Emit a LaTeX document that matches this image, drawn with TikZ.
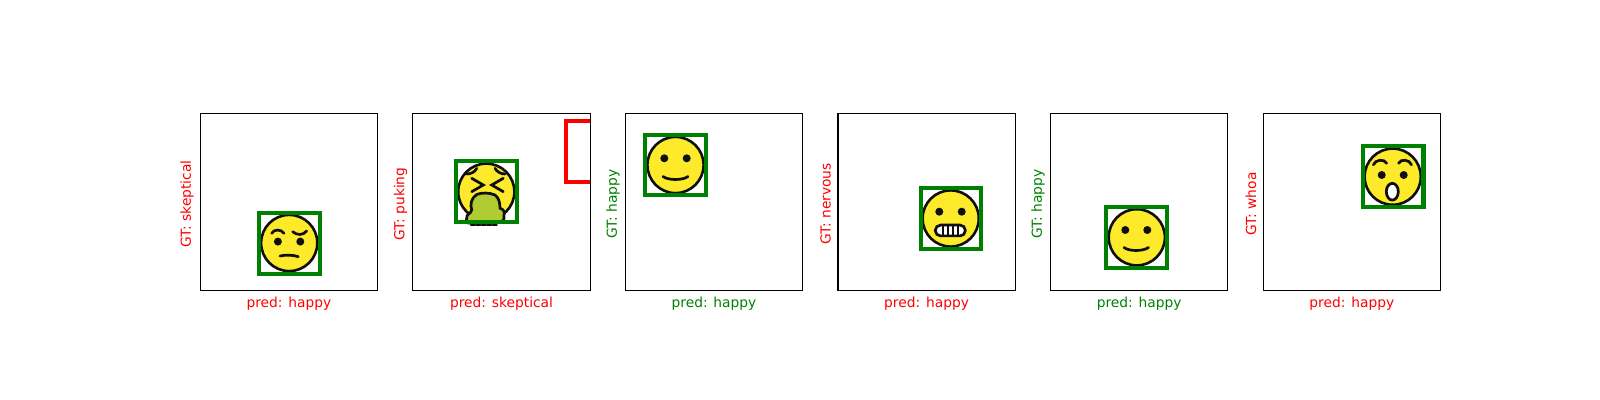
\documentclass[tikz,border=0pt]{standalone}
\usepackage{fontspec}
\usetikzlibrary{shapes.geometric}
\setmainfont{DejaVu Sans}
\definecolor{okgreen}{RGB}{0,128,0}
\definecolor{emojiyellow}{RGB}{252,234,43}
\definecolor{pukegreen}{RGB}{177,204,51}
\definecolor{emojiline}{RGB}{15,15,15}

\begin{document}
\begin{tikzpicture}[
    x=0.5pt,y=-0.5pt,
	panel/.style={draw, black, line width=0.55pt, minimum size=88.57pt, inner sep=0},
	face/.style={circle, draw=emojiline, fill=emojiyellow, line width=1.3pt, minimum size=28.1pt, inner sep=0},
	eye/.style={circle, fill=emojiline, minimum size=4pt, inner sep=0},
	feature/.style={draw=emojiline, line width=1.35pt, line cap=round},
	hitbox/.style={draw=okgreen, line width=2.08pt, minimum size=30.4pt, inner sep=0},
	missbox/.style={draw=red, line width=2.08pt, minimum size=30.4pt, inner sep=0},
	good/.style={font=\fontsize{6.9pt}{8pt}\selectfont, text=okgreen},
	bad/.style={font=\fontsize{6.9pt}{8pt}\selectfont, text=red}
]
\useasboundingbox (0,0) rectangle (1600,400);

\node[bad] (pred1) at (288.9,303.3) {pred: happy};
\node[bad, rotate=90] (gt1) at (187,204) {GT: skeptical};
\node[face] (face1) at (289.2,243) {};
\node[eye] (eyeA1) at (277.9,241.6) {};
\node[eye] (eyeB1) at (300.3,241.6) {};
\draw[feature] (271.7,233.3) .. controls (274,229) and (281,229) .. (284,233.3);
\draw[feature] (292.7,231.7) .. controls (297,235.5) and (303,235.5) .. (306.7,231);
\draw[feature] (280,256) .. controls (285,254.8) and (293,254.8) .. (298.3,256.7);
\node[hitbox] (box1) at (289.8,243.2) {};
\node[panel] (ax1) at (288.9,202.3) {};

\node[bad] (pred2) at (501.5,303.3) {pred: skeptical};
\node[bad, rotate=90] (gt2) at (400.6,204) {GT: puking};
\begin{scope}
\clip (412.9,113.7) rectangle (590.1,290.9);
\node[missbox] (miss2) at (596.5,151.8) {};
\end{scope}
\node[face] (face2) at (486.3,191.7) {};
\draw[feature, dash pattern=on 2pt off 0.7pt] (471,225) -- (497,225);
\draw[feature, fill=pukegreen, line join=round] (466.7,218.3) .. controls (466,214) and (471,214) .. (471.7,210) .. controls (470,205) and (471,198) .. (476.7,194.5) .. controls (481,192.5) and (490,192.5) .. (495,195) .. controls (499,198) and (500,203) .. (500,208.3) .. controls (504,209) and (505,213) .. (503.8,216) .. controls (505,219) and (503,221.5) .. (500,222) -- (468,223) .. controls (466,222) and (465.5,220) .. (466.7,218.3) -- cycle;
\draw[feature] (471.7,178.3) -- (483.3,185) -- (471.7,191.7);
\draw[feature] (503.3,178.3) -- (491.7,185) -- (503.3,191.7);
\draw[feature] (466.7,174) .. controls (471,174) and (475,172) .. (476.7,168.3);
\draw[feature] (505,174) .. controls (501,174) and (497,172) .. (495,168.3);
\node[hitbox] (box2) at (486.5,191.5) {};
\node[panel] (ax2) at (501.5,202.3) {};

\node[good] (pred3) at (714,303.3) {pred: happy};
\node[good, rotate=90] (gt3) at (613,204) {GT: happy};
\node[face] (face3) at (675.5,165) {};
\node[eye] (eyeA3) at (664.3,158.3) {};
\node[eye] (eyeB3) at (686.7,158.3) {};
\draw[feature] (663,176.5) .. controls (668,180.5) and (683,180.5) .. (688,176.5);
\node[hitbox] (box3) at (675.5,165) {};
\node[panel] (ax3) at (714,202.3) {};

\node[bad] (pred4) at (926.6,303.3) {pred: happy};
\node[bad, rotate=90] (gt4) at (825.6,204) {GT: nervous};
\node[face] (face4) at (950.7,218.5) {};
\node[eye] (eyeA4) at (939.3,211.7) {};
\node[eye] (eyeB4) at (961.7,211.7) {};
\node[draw=emojiline, fill=white, line width=1.35pt, rounded corners=2.6pt, minimum width=15pt, minimum height=5.4pt, inner sep=0] (mouth4) at (950.3,230.5) {};
\foreach \tooth in {-7.5,-2.5,2.5,7.5} {
\draw[emojiline, line width=1.2pt] (950.3+\tooth,225) -- (950.3+\tooth,236);
}
\node[hitbox] (box4) at (951,218.5) {};
\node[panel] (ax4) at (926.6,202.3) {};

\node[good] (pred5) at (1139.2,303.3) {pred: happy};
\node[good, rotate=90] (gt5) at (1038,204) {GT: happy};
\node[face] (face5) at (1136.8,237.3) {};
\node[eye] (eyeA5) at (1125.3,230) {};
\node[eye] (eyeB5) at (1147.3,230) {};
\draw[feature] (1124,247.5) .. controls (1129,251.5) and (1143,251.5) .. (1148.5,247.5);
\node[hitbox] (box5) at (1136.8,237.5) {};
\node[panel] (ax5) at (1139.2,202.3) {};

\node[bad] (pred6) at (1351.8,303.3) {pred: happy};
\node[bad, rotate=90] (gt6) at (1251,204) {GT: whoa};
\node[face] (face6) at (1392.7,176.7) {};
\node[eye] (eyeA6) at (1381.7,175) {};
\node[eye] (eyeB6) at (1403.7,175) {};
\node[ellipse, draw=emojiline, fill=white, line width=1.35pt, minimum width=6pt, minimum height=8.4pt, inner sep=0] (mouth6) at (1392.3,191.7) {};
\draw[feature] (1373.3,164.8) .. controls (1375.5,159.5) and (1384,158.5) .. (1386.7,163.3);
\draw[feature] (1398.5,163.3) .. controls (1401,158.5) and (1409.5,159.5) .. (1411.5,164.8);
\node[hitbox] (box6) at (1393,176.7) {};
\node[panel] (ax6) at (1351.8,202.3) {};
\end{tikzpicture}
\end{document}
